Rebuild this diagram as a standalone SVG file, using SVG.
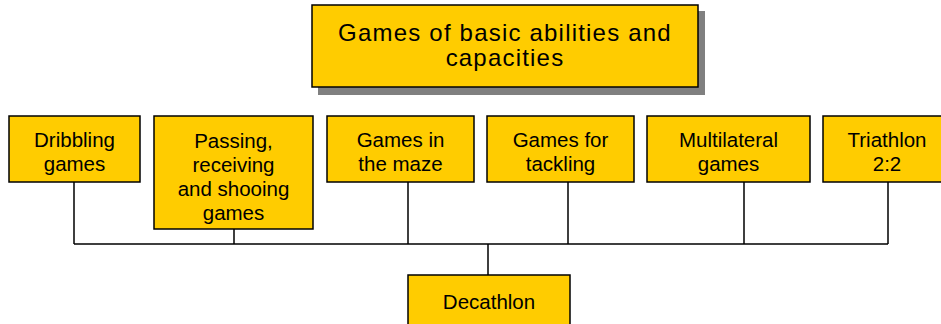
<svg xmlns="http://www.w3.org/2000/svg" width="941" height="324" viewBox="0 0 941 324">
<style>
.box{fill:#FFCC00;stroke:#000;stroke-width:1.5}
.sh{fill:#808080}
.t{font-family:"Liberation Sans",Arial,sans-serif;font-size:20.5px;fill:#000;text-anchor:middle}
.tt{font-family:"Liberation Sans",Arial,sans-serif;font-size:24px;fill:#000;text-anchor:middle}
.c{fill:none;stroke:#000;stroke-width:1.5}
</style>
<rect width="941" height="324" fill="#fff"/>
<g id="connectors">
<path class="c" d="M74 182V244M234 229V244M408 182V244M568 182V244M744 182V244M888 182V244M74 244H888M488 244V275"/>
</g>
<g id="title">
<rect class="sh" x="318" y="11" width="387" height="84"/>
<rect class="box" x="312" y="5" width="386" height="82"/>
<text class="tt" x="505" y="41" letter-spacing="1.2">Games of basic abilities and</text>
<text class="tt" x="505" y="66" letter-spacing="1.2">capacities</text>
</g>
<g id="dribbling">
<rect class="box" x="9" y="116" width="131" height="66"/>
<text class="t" x="74.5" y="147">Dribbling</text>
<text class="t" x="74.5" y="171">games</text>
</g>
<g id="passing">
<rect class="box" x="154" y="116" width="159" height="113"/>
<text class="t" x="233.5" y="148">Passing,</text>
<text class="t" x="233.5" y="172">receiving</text>
<text class="t" x="233.5" y="196">and shooing</text>
<text class="t" x="233.5" y="220">games</text>
</g>
<g id="maze">
<rect class="box" x="327" y="116" width="147" height="66"/>
<text class="t" x="400.5" y="147">Games in</text>
<text class="t" x="400.5" y="171">the maze</text>
</g>
<g id="tackling">
<rect class="box" x="487" y="116" width="147" height="66"/>
<text class="t" x="560.5" y="147">Games for</text>
<text class="t" x="560.5" y="171">tackling</text>
</g>
<g id="multilateral">
<rect class="box" x="647" y="116" width="163" height="66"/>
<text class="t" x="728.5" y="147">Multilateral</text>
<text class="t" x="728.5" y="171">games</text>
</g>
<g id="triathlon">
<rect class="box" x="823" y="116" width="128" height="66"/>
<text class="t" x="887" y="147">Triathlon</text>
<text class="t" x="887" y="171">2:2</text>
</g>
<g id="decathlon">
<rect class="box" x="408" y="275" width="162" height="60"/>
<text class="t" x="489" y="309">Decathlon</text>
</g>
</svg>
